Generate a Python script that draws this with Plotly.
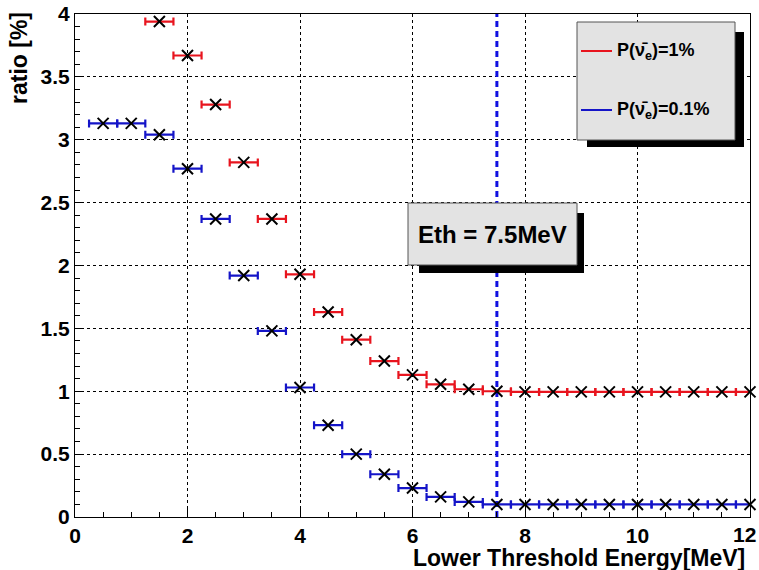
import plotly.graph_objects as go

# ---- data ----
red_x = [1.5, 2.0, 2.5, 3.0, 3.5, 4.0, 4.5, 5.0, 5.5, 6.0, 6.5, 7.0, 7.5,
         8.0, 8.5, 9.0, 9.5, 10.0, 10.5, 11.0, 11.5, 12.0]
red_y = [3.94, 3.67, 3.28, 2.82, 2.37, 1.93, 1.63, 1.41, 1.24, 1.13, 1.055, 1.016, 1.0,
         0.995, 0.995, 0.995, 0.995, 0.995, 0.995, 0.995, 0.995, 0.995]
blue_x = [0.5, 1.0, 1.5, 2.0, 2.5, 3.0, 3.5, 4.0, 4.5, 5.0, 5.5, 6.0, 6.5, 7.0, 7.5,
          8.0, 8.5, 9.0, 9.5, 10.0, 10.5, 11.0, 11.5, 12.0]
blue_y = [3.13, 3.13, 3.04, 2.77, 2.37, 1.92, 1.48, 1.03, 0.73, 0.50, 0.34, 0.23, 0.16, 0.12, 0.10,
          0.10, 0.10, 0.10, 0.10, 0.10, 0.10, 0.10, 0.10, 0.10]
x_tick_vals = [0, 2, 4, 6, 8, 10]
x_tick_text = ["0", "2", "4", "6", "8", "10"]
x_last_tick = "12"
x_half_width = 0.25
threshold = 7.5
legend_labels = ["P(ν\u0304<sub>e</sub>)=1%", "P(ν\u0304<sub>e</sub>)=0.1%"]
eth_label = "Eth = 7.5MeV"
x_title = "Lower Threshold Energy[MeV]"
y_title = "ratio [%]"

RED = "#e8141e"
BLUE = "#1414c8"
FONT = "Liberation Sans, Arial, sans-serif"

W, H = 759, 570
ML, MR, MT, MB = 75, 9, 14, 53
PW, PH = W - ML - MR, H - MT - MB


def px(x):
    return (x - ML) / PW


def py(y):
    return (H - MB - y) / PH


fig = go.Figure()

for xs, ys, col, name in [(red_x, red_y, RED, legend_labels[0]),
                          (blue_x, blue_y, BLUE, legend_labels[1])]:
    fig.add_trace(go.Scatter(
        x=xs, y=ys, mode="markers", name=name, showlegend=False,
        marker=dict(symbol="x-thin", size=11, color="black",
                    line=dict(color="black", width=2)),
        error_x=dict(type="constant", value=x_half_width, color=col,
                     thickness=2.2, width=4),
        cliponaxis=False,
    ))

shapes = []
# threshold line
shapes.append(dict(type="line", xref="x", yref="y", x0=threshold, x1=threshold,
                   y0=0, y1=4, layer="between",
                   line=dict(color="#1010e0", width=3, dash="6px,4px")))

# legend box with shadow
shapes.append(dict(type="rect", xref="paper", yref="paper",
                   x0=px(587), x1=px(744), y0=py(147), y1=py(32),
                   fillcolor="black", line=dict(width=0), layer="above"))
shapes.append(dict(type="rect", xref="paper", yref="paper",
                   x0=px(577), x1=px(735), y0=py(140), y1=py(22),
                   fillcolor="#e3e3e3", line=dict(color="#555555", width=1), layer="above"))
shapes.append(dict(type="line", xref="paper", yref="paper",
                   x0=px(581), x1=px(612), y0=py(51), y1=py(51),
                   line=dict(color=RED, width=2), layer="above"))
shapes.append(dict(type="line", xref="paper", yref="paper",
                   x0=px(581), x1=px(612), y0=py(110), y1=py(110),
                   line=dict(color=BLUE, width=2), layer="above"))

# Eth box with shadow
shapes.append(dict(type="rect", xref="paper", yref="paper",
                   x0=px(419), x1=px(584), y0=py(273), y1=py(213),
                   fillcolor="black", line=dict(width=0), layer="above"))
shapes.append(dict(type="rect", xref="paper", yref="paper",
                   x0=px(408), x1=px(577), y0=py(265), y1=py(203),
                   fillcolor="#e3e3e3", line=dict(color="#555555", width=1), layer="above"))

annotations = [
    dict(xref="paper", yref="paper", x=px(615), y=py(51), text=legend_labels[0],
         showarrow=False, xanchor="left", yanchor="middle",
         font=dict(family=FONT, size=18, color="black", weight="bold")),
    dict(xref="paper", yref="paper", x=px(615), y=py(110), text=legend_labels[1],
         showarrow=False, xanchor="left", yanchor="middle",
         font=dict(family=FONT, size=18, color="black", weight="bold")),
    dict(xref="paper", yref="paper", x=px(492), y=py(234), text=eth_label,
         showarrow=False, xanchor="center", yanchor="middle",
         font=dict(family=FONT, size=24, color="black", weight="bold")),
    dict(xref="paper", yref="paper", x=px(747), y=py(573), text=x_title,
         showarrow=False, xanchor="right", yanchor="bottom",
         font=dict(family=FONT, size=23, color="black", weight="bold")),
    dict(xref="paper", yref="paper", x=px(4), y=py(10), text=y_title,
         showarrow=False, xanchor="left", yanchor="top", textangle=-90,
         font=dict(family=FONT, size=23, color="black", weight="bold")),
    dict(xref="paper", yref="paper", x=px(758), y=py(534), text=x_last_tick,
         showarrow=False, xanchor="right", yanchor="middle",
         font=dict(family=FONT, size=21, color="black", weight="bold")),
]

axis_common = dict(
    showline=True, linecolor="black", linewidth=1, mirror=True,
    ticks="inside", ticklen=8, tickwidth=1, tickcolor="black",
    showgrid=True, gridcolor="black", griddash="dot", gridwidth=1,
    zeroline=False, automargin=False,
    tickfont=dict(family=FONT, size=21, color="black", weight="bold"),
)

fig.update_layout(
    width=W, height=H,
    margin=dict(l=ML, r=MR, t=MT, b=MB, autoexpand=False),
    paper_bgcolor="white", plot_bgcolor="white",
    showlegend=False,
    shapes=shapes, annotations=annotations,
    xaxis=dict(range=[0, 12], tickmode="array", tickvals=x_tick_vals, ticktext=x_tick_text,
               ticklabelstandoff=0,
               minor=dict(dtick=0.5, tick0=0, ticks="inside", ticklen=5, tickcolor="black", showgrid=False),
               **axis_common),
    yaxis=dict(range=[0, 4], dtick=0.5, tick0=0,
               minor=dict(dtick=0.1, ticks="inside", ticklen=5, tickcolor="black", showgrid=False),
               **axis_common),
)

fig.write_html("out.html")
